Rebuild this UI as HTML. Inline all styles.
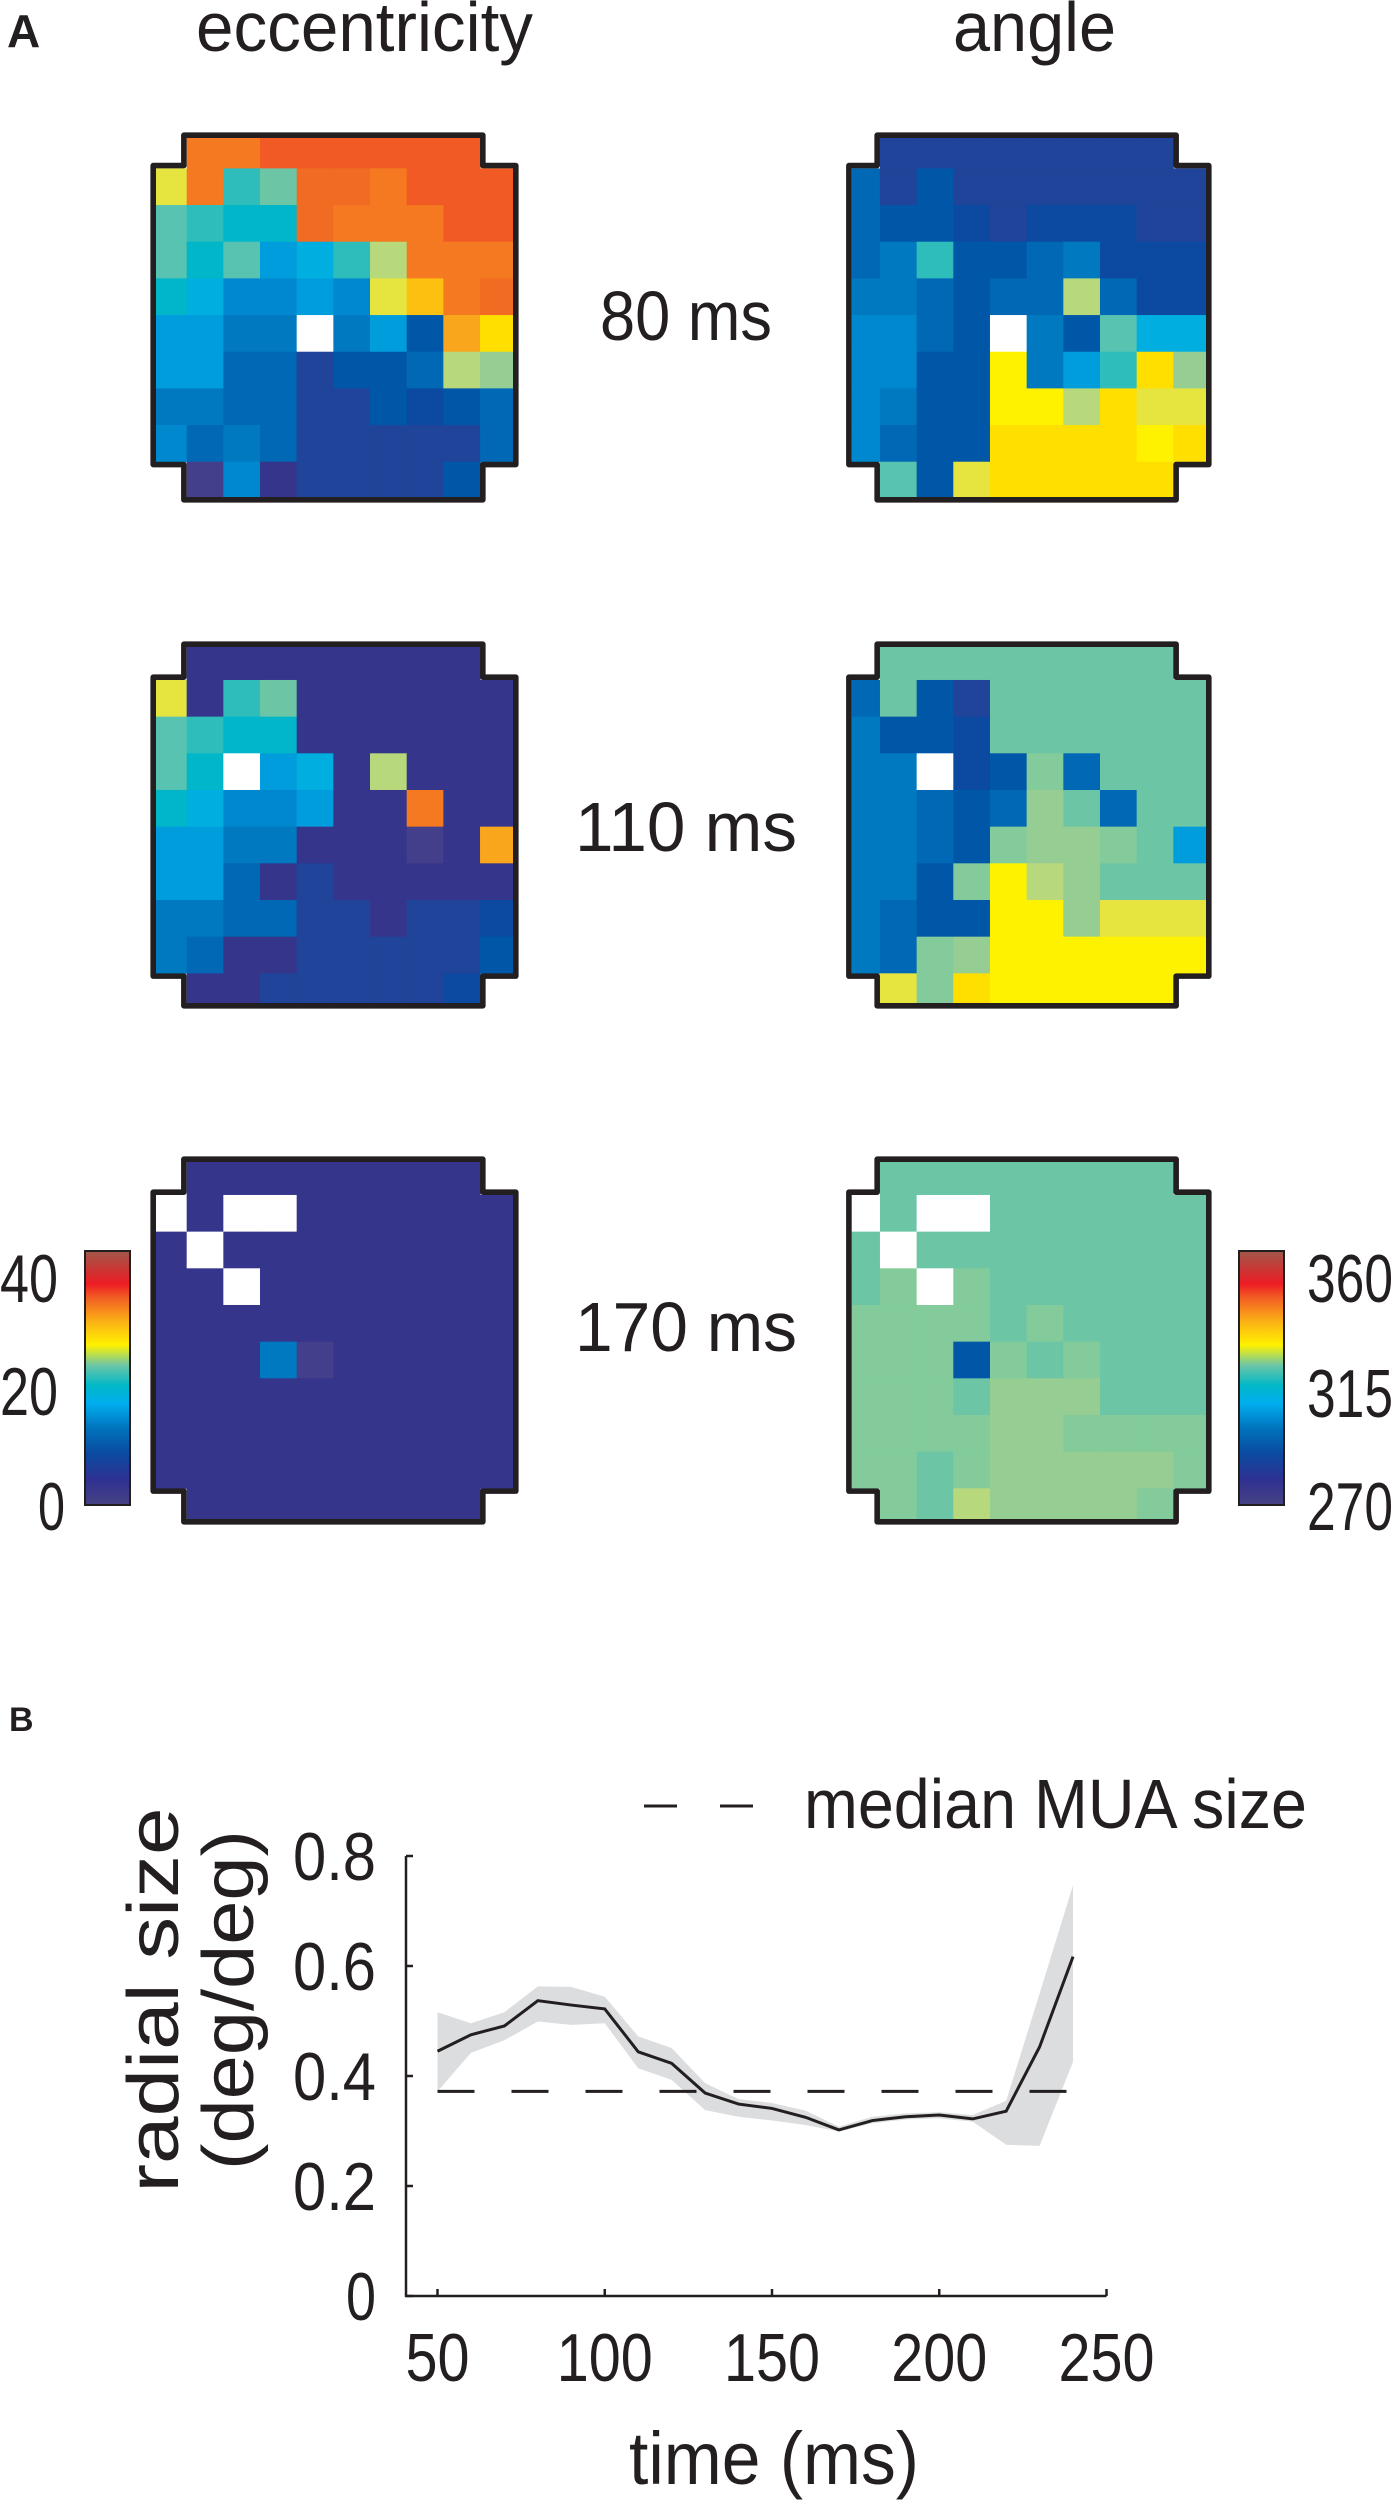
<!DOCTYPE html>
<html><head><meta charset="utf-8">
<style>
html,body{margin:0;padding:0;background:#fff;}
svg{display:block;font-family:"Liberation Sans",sans-serif;}
</style></head>
<body>
<svg id="fig" width="1394" height="2500" viewBox="0 0 1394 2500" xmlns="http://www.w3.org/2000/svg">
<defs>
<linearGradient id="jet" x1="0" y1="1" x2="0" y2="0">
<stop offset="0" stop-color="#474283"/>
<stop offset="0.1" stop-color="#2e3192"/>
<stop offset="0.2" stop-color="#0b4aa0"/>
<stop offset="0.3" stop-color="#0072bc"/>
<stop offset="0.4" stop-color="#00aeef"/>
<stop offset="0.47" stop-color="#00b8c8"/>
<stop offset="0.55" stop-color="#6cc6a6"/>
<stop offset="0.63" stop-color="#fff200"/>
<stop offset="0.72" stop-color="#fbb315"/>
<stop offset="0.82" stop-color="#f15a24"/>
<stop offset="0.87" stop-color="#ed1c24"/>
<stop offset="1" stop-color="#a0584a"/>
</linearGradient>
</defs>
<text x="7" y="47" font-size="46" font-weight="bold" fill="#231f20">A</text>
<text x="196" y="51" font-size="70" textLength="337" lengthAdjust="spacingAndGlyphs" fill="#231f20">eccentricity</text>
<text x="953" y="51" font-size="70" textLength="163" lengthAdjust="spacingAndGlyphs" fill="#231f20">angle</text>
<text x="686" y="340" font-size="70" text-anchor="middle" textLength="172" lengthAdjust="spacingAndGlyphs" fill="#231f20">80 ms</text>
<text x="686" y="851" font-size="70" text-anchor="middle" textLength="222" lengthAdjust="spacingAndGlyphs" fill="#231f20">110 ms</text>
<text x="686" y="1351" font-size="70" text-anchor="middle" textLength="222" lengthAdjust="spacingAndGlyphs" fill="#231f20">170 ms</text>

<g>
<rect x="85" y="1251" width="45" height="254" fill="url(#jet)" stroke="#231f20" stroke-width="2"/>
<text x="58" y="1302" font-size="68" text-anchor="end" textLength="58" lengthAdjust="spacingAndGlyphs" fill="#231f20">40</text>
<text x="58" y="1415" font-size="68" text-anchor="end" textLength="58" lengthAdjust="spacingAndGlyphs" fill="#231f20">20</text>
<text x="65" y="1530" font-size="68" text-anchor="end" textLength="27" lengthAdjust="spacingAndGlyphs" fill="#231f20">0</text>
</g>
<g>
<rect x="1239" y="1251" width="45" height="254" fill="url(#jet)" stroke="#231f20" stroke-width="2"/>
<text x="1307" y="1302" font-size="68" textLength="86" lengthAdjust="spacingAndGlyphs" fill="#231f20">360</text>
<text x="1307" y="1417" font-size="68" textLength="86" lengthAdjust="spacingAndGlyphs" fill="#231f20">315</text>
<text x="1307" y="1530" font-size="68" textLength="86" lengthAdjust="spacingAndGlyphs" fill="#231f20">270</text>
</g>

<g id="grids"></g>

<text x="9" y="1731" font-size="34" font-weight="bold" fill="#231f20">B</text>
<g id="chartB"></g>
</svg>
<script>
// ---------- heatmap data (colour level per electrode; null = corner, -1 = no data) ----------
const X = null, W = -1;
const ecc80 = [
[X,20,20,22,22,22,22,22,22,X],
[15,20,10,12,21,21,20,22,22,22],
[11,10,9,9,21,20,20,20,22,22],
[11,9,11,7,8,10,14,20,20,20],
[9,8,6,6,7,6,15,18,20,21],
[7,7,5,5,W,5,7,3,19,17],
[7,7,4,4,1,3,3,4,14,13],
[5,5,4,4,1,1,3,2,3,4],
[6,4,5,4,1,1,1,1,1,4],
[X,-0.5,6,0,1,1,1,1,3,X]];
const ang80 = [
[X,1,1,1,1,1,1,1,1,X],
[4,1,3,1,1,1,1,1,1,1],
[4,3,3,2,1,2,2,2,1,1],
[4,5,10,3,3,4,5,2,2,2],
[5,5,4,3,4,4,14,4,2,2],
[6,6,4,3,W,5,3,11,8,8],
[6,6,3,3,16,5,7,10,17,13],
[6,5,3,3,16,16,14,17,15,15],
[6,4,3,3,17,17,17,17,16,17],
[X,11,3,15,17,17,17,17,17,X]];
const ecc110 = [
[X,0,0,0,0,0,0,0,0,X],
[15,0,10,12,0,0,0,0,0,0],
[11,10,9,9,0,0,0,0,0,0],
[11,9,W,7,8,0,14,0,0,0],
[9,8,6,6,7,0,0,20,0,0],
[7,7,5,5,0,0,0,-0.5,0,19],
[7,7,4,0,1,0,0,0,0,0],
[5,5,4,4,1,1,0,1,1,2],
[5,4,0,0,1,1,1,1,1,3],
[X,0,0,1,1,1,1,1,2,X]];
const ang110 = [
[X,12,12,12,12,12,12,12,12,X],
[4,12,3,1,12,12,12,12,12,12],
[5,3,3,2,12,12,12,12,12,12],
[5,5,W,2,3,12.5,4,12,12,12],
[5,5,4,3,4,13,12,4,12,12],
[5,5,4,3,12.5,13,13,12.5,12,7],
[5,5,3,12.5,16,14,13,12,12,12],
[5,4,3,3,16,16,13,15,15,15],
[5,4,12.5,13,16,16,16,16,16,16],
[X,15,12.5,17,16,16,16,16,16,X]];
const ecc170 = [
[X,0,0,0,0,0,0,0,0,X],
[W,0,W,W,0,0,0,0,0,0],
[0,W,0,0,0,0,0,0,0,0],
[0,0,W,0,0,0,0,0,0,0],
[0,0,0,0,0,0,0,0,0,0],
[0,0,0,5,-0.5,0,0,0,0,0],
[0,0,0,0,0,0,0,0,0,0],
[0,0,0,0,0,0,0,0,0,0],
[0,0,0,0,0,0,0,0,0,0],
[X,0,0,0,0,0,0,0,0,X]];
const ang170 = [
[X,12,12,12,12,12,12,12,12,X],
[W,12,W,W,12,12,12,12,12,12],
[12,W,12,12,12,12,12,12,12,12],
[12,12.5,W,12.5,12,12,12,12,12,12],
[12.5,12.5,12.5,12.5,12,12.5,12,12,12,12],
[12.5,12.5,12.5,3,12.5,12,12.5,12,12,12],
[12.5,12.5,12.5,12,13,13,13,12,12,12],
[12.5,12.5,12.5,12.5,13,13,12.5,12.5,12.5,12.5],
[12.5,12.5,12,12.5,13,13,13,13,13,12.5],
[X,12.5,12,14,13,13,13,13,12.5,X]];
const paletteLevels = [-0.5,0,1,2,3,4,5,6,7,8,9,10,11,12,12.5,13,14,15,16,17,18,19,20,21,22];
const paletteColors = ["#443f8a","#35358b","#1f4499","#0b4aa0","#0057a8","#0068b4","#0079c1","#0088cf","#009ddd","#00afe0","#00b6c8","#2ebdbb","#57c3b0","#6cc6a6","#83cb9b","#96cd92","#b8d87c","#e6e540","#fff200","#ffdf00","#fdc010","#f9a61c","#f47920","#f26b22","#f15a24"];

// ---------- line chart data ----------
const times = [50,60,70,80,90,100,110,120,130,140,150,160,170,180,190,200,210,220,230,240];
const meanSize = [0.445,0.475,0.491,0.537,0.529,0.522,0.444,0.423,0.369,0.349,0.341,0.325,0.302,0.319,0.326,0.329,0.322,0.336,0.453,0.617];
const upperSize = [0.516,0.496,0.516,0.563,0.562,0.544,0.472,0.451,0.387,0.358,0.351,0.337,0.308,0.326,0.332,0.334,0.329,0.355,0.55,0.747];
const lowerSize = [0.372,0.442,0.465,0.499,0.493,0.496,0.414,0.393,0.338,0.326,0.319,0.311,0.299,0.314,0.321,0.323,0.317,0.275,0.273,0.426];
const medianMUA = [0.372];
const xTicks = [50,100,150,200,250];
const yTicks = [0,0.2,0.4,0.6,0.8];
const yTickLabels = ["0","0.2","0.4","0.6","0.8"];

const NS = "http://www.w3.org/2000/svg";
function mk(tag, attrs, parent){ const e=document.createElementNS(NS,tag); for(const k in attrs) e.setAttribute(k,attrs[k]); parent.appendChild(e); return e; }
function colorOf(v){ if(v===-1) return "#ffffff"; const i=paletteLevels.indexOf(v); return paletteColors[i>=0?i:1]; }

const grids = document.getElementById('grids');
const CW = 36.67;
function drawGrid(data, ox, oy, L, T, R, B, name){
  const g = mk('g',{},grids);
  
  
  for(let r=0;r<10;r++) for(let c=0;c<10;c++){
    const v = data[r][c]; if(v===null) continue;
    const x0=Math.max(L,ox+c*CW), x1=Math.min(R,ox+(c+1)*CW);
    const y0=Math.max(T,oy+r*CW), y1=Math.min(B,oy+(r+1)*CW);
    const rc = mk('rect',{x:x0,y:y0,width:x1-x0+0.5,height:y1-y0+0.5,fill:colorOf(v)},g);
    
    
  }
  const o=2.8, cx1=ox+CW, cx9=ox+9*CW, r1=oy+CW, r9=oy+9*CW;
  const d=`M${cx1-o},${T-o} L${cx9+o},${T-o} L${cx9+o},${r1-o} L${R+o},${r1-o} L${R+o},${r9+o} L${cx9+o},${r9+o} L${cx9+o},${B+o} L${cx1-o},${B+o} L${cx1-o},${r9+o} L${L-o},${r9+o} L${L-o},${r1-o} L${cx1-o},${r1-o} Z`;
  const p = mk('path',{d:d,fill:'none',stroke:'#231f20','stroke-width':5.6,'stroke-linejoin':'round'},g);
  
  
}
drawGrid(ecc80, 150, 131.7, 156, 138, 513, 497, 'eccentricity-map-80ms');
drawGrid(ang80, 843.3, 131.7, 851.7, 138, 1206, 497, 'angle-map-80ms');
drawGrid(ecc110, 150, 643.3, 156, 647, 513, 1003, 'eccentricity-map-110ms');
drawGrid(ang110, 843.3, 643.3, 851.7, 647, 1206, 1003, 'angle-map-110ms');
drawGrid(ecc170, 150, 1158.3, 156, 1162, 513, 1519, 'eccentricity-map-170ms');
drawGrid(ang170, 843.3, 1158.3, 851.7, 1162, 1206, 1519, 'angle-map-170ms');

// ---------- chart B ----------
const cb = document.getElementById('chartB');
const xS = t => 437.5 + (t-50)*3.345;
const yS = v => 2296 - v*550;
let bd = times.map((t,i)=>`${i?'L':'M'}${xS(t)},${yS(upperSize[i])}`).join(' ');
for(let i=times.length-1;i>=0;i--) bd += ` L${xS(times[i])},${yS(lowerSize[i])}`;
const band = mk('path',{d:bd+' Z',fill:'#dcdddf'},cb);


const med = mk('line',{x1:xS(times[0]),x2:xS(times[times.length-1]),y1:yS(medianMUA[0]),y2:yS(medianMUA[0]),stroke:'#231f20','stroke-width':3,'stroke-dasharray':'37 37'},cb);


const ln = mk('polyline',{points:times.map((t,i)=>`${xS(t)},${yS(meanSize[i])}`).join(' '),fill:'none',stroke:'#231f20','stroke-width':3},cb);


const ya = mk('line',{x1:406,x2:406,y1:yS(0.8),y2:yS(0)+1,stroke:'#231f20','stroke-width':2.5},cb);


const xa = mk('line',{x1:405,x2:xS(250),y1:yS(0),y2:yS(0),stroke:'#231f20','stroke-width':2.5},cb);


yTicks.forEach((v,i)=>{
  mk('line',{x1:406,x2:413,y1:yS(v),y2:yS(v),stroke:'#231f20','stroke-width':2.5},cb);
  const t = mk('text',{x:376,y:yS(v)+24,'font-size':68,'text-anchor':'end',fill:'#231f20'},cb);
  if(yTickLabels[i].length>1){ t.setAttribute('textLength',83); t.setAttribute('lengthAdjust','spacingAndGlyphs'); }
  else { t.setAttribute('textLength',30); t.setAttribute('lengthAdjust','spacingAndGlyphs'); }
  t.textContent = yTickLabels[i];
  
  
});
xTicks.forEach(v=>{
  mk('line',{x1:xS(v),x2:xS(v),y1:yS(0),y2:yS(0)-7,stroke:'#231f20','stroke-width':2.5},cb);
  const t = mk('text',{x:xS(v),y:2381,'font-size':68,'text-anchor':'middle',fill:'#231f20',textLength:String(v).length*32,lengthAdjust:'spacingAndGlyphs'},cb);
  t.textContent = v;
  
  
});
const xt = mk('text',{x:774,y:2484,'font-size':74,'text-anchor':'middle',fill:'#231f20',textLength:290,lengthAdjust:'spacingAndGlyphs'},cb);
xt.textContent = 'time (ms)';


const yt1 = mk('text',{x:0,y:0,'font-size':72,'text-anchor':'middle',fill:'#231f20',transform:'translate(178,2000) rotate(-90)',textLength:385,lengthAdjust:'spacingAndGlyphs'},cb);
yt1.textContent = 'radial size';


const yt2 = mk('text',{x:0,y:0,'font-size':72,'text-anchor':'middle',fill:'#231f20',transform:'translate(253,2000) rotate(-90)',textLength:340,lengthAdjust:'spacingAndGlyphs'},cb);
yt2.textContent = '(deg/deg)';


const lg = mk('g',{},cb);


mk('line',{x1:644,x2:756,y1:1806,y2:1806,stroke:'#231f20','stroke-width':3,'stroke-dasharray':'33 43'},lg);
const lt = mk('text',{x:804,y:1828,'font-size':70,fill:'#231f20',textLength:503,lengthAdjust:'spacingAndGlyphs'},lg);
lt.textContent = 'median MUA size';


</script>
</body></html>
